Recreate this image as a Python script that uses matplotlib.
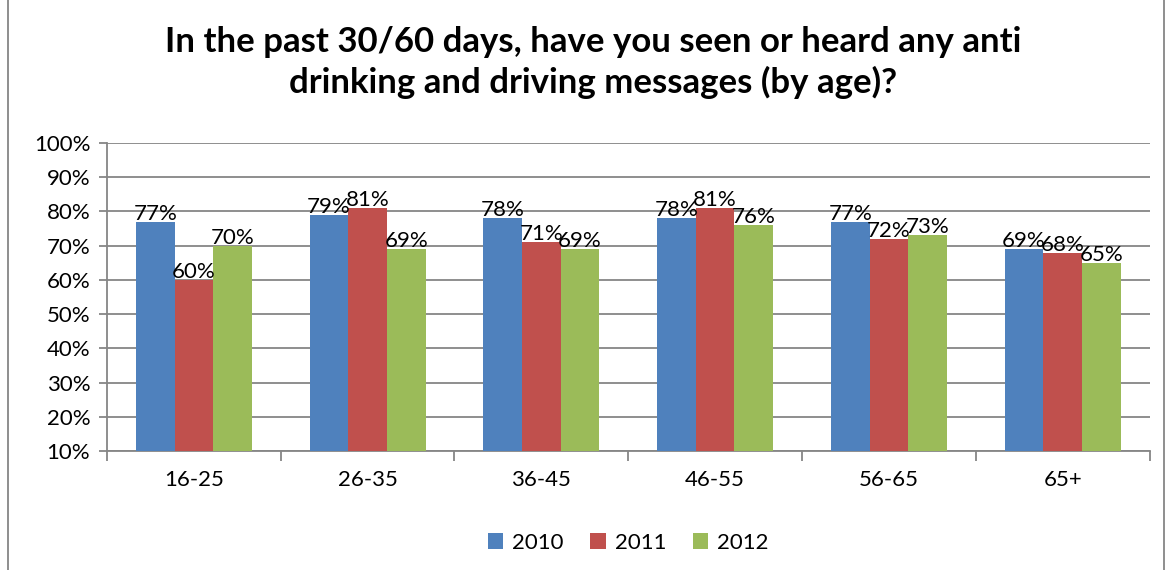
import matplotlib.pyplot as plt
import numpy as np
from matplotlib.patches import Rectangle

plt.rcParams['font.family'] = ['Lato', 'DejaVu Sans']

ages = ['16-25', '26-35', '36-45', '46-55', '56-65', '65+']
years = ['2010', '2011', '2012']
v2010 = [77, 79, 78, 78, 77, 69]
v2011 = [60, 81, 71, 81, 72, 68]
v2012 = [70, 69, 69, 76, 73, 65]
colors = ['#4f81bd', '#c0504d', '#9bbb59']

fig = plt.figure(figsize=(11.73, 5.70), dpi=100)
ax = fig.add_axes([0.0912, 0.2088, 0.8888, 0.5402])

x = np.arange(len(ages))
w = 1 / 4.5
for i, (vals, c, yr) in enumerate(zip([v2010, v2011, v2012], colors, years)):
    pos = x + (i - 1) * w
    ax.bar(pos, vals, width=w, color=c, label=yr, edgecolor='none', zorder=3)
    for p, v in zip(pos, vals):
        ax.text(p, v - 0.6, f'{v}%', ha='center', va='bottom', fontsize=16, zorder=4)

ax.set_xlim(-0.5, len(ages) - 0.5)
ax.set_ylim(10, 100)
ax.set_yticks(range(10, 101, 10))
ax.set_yticklabels([f'{t}%' for t in range(10, 101, 10)], fontsize=16)
ax.yaxis.grid(True, color='#868686', linewidth=1.3, zorder=0)
ax.set_xticks(x)
ax.set_xticklabels(ages, fontsize=16)
ax.tick_params(axis='x', length=0, pad=14)
ax.tick_params(axis='y', length=6, color='#868686', width=1.3, pad=6)
ax.set_xticks(np.arange(-0.5, len(ages)), minor=True)
ax.tick_params(axis='x', which='minor', length=7, color='#868686', width=1.3)
for s in ['top', 'right']:
    ax.spines[s].set_visible(False)
for s in ['left', 'bottom']:
    ax.spines[s].set_color('#868686')
    ax.spines[s].set_linewidth(1.3)

fig.suptitle('In the past 30/60 days, have you seen or heard any anti\ndrinking and driving messages (by age)?',
             x=0.506, y=0.955, fontsize=25, fontweight='bold', linespacing=1.3)

ax.legend(loc='upper center', bbox_to_anchor=(0.5, -0.2), ncol=3, frameon=False,
          fontsize=16, handlelength=0.7, handleheight=0.7, columnspacing=1.2, handletextpad=0.4)

fig.patches.append(Rectangle((0.007, -0.01), 0.985, 1.02, transform=fig.transFigure,
                             fill=False, edgecolor='#868686', linewidth=1.3))

fig.savefig('out.png', dpi=100)
